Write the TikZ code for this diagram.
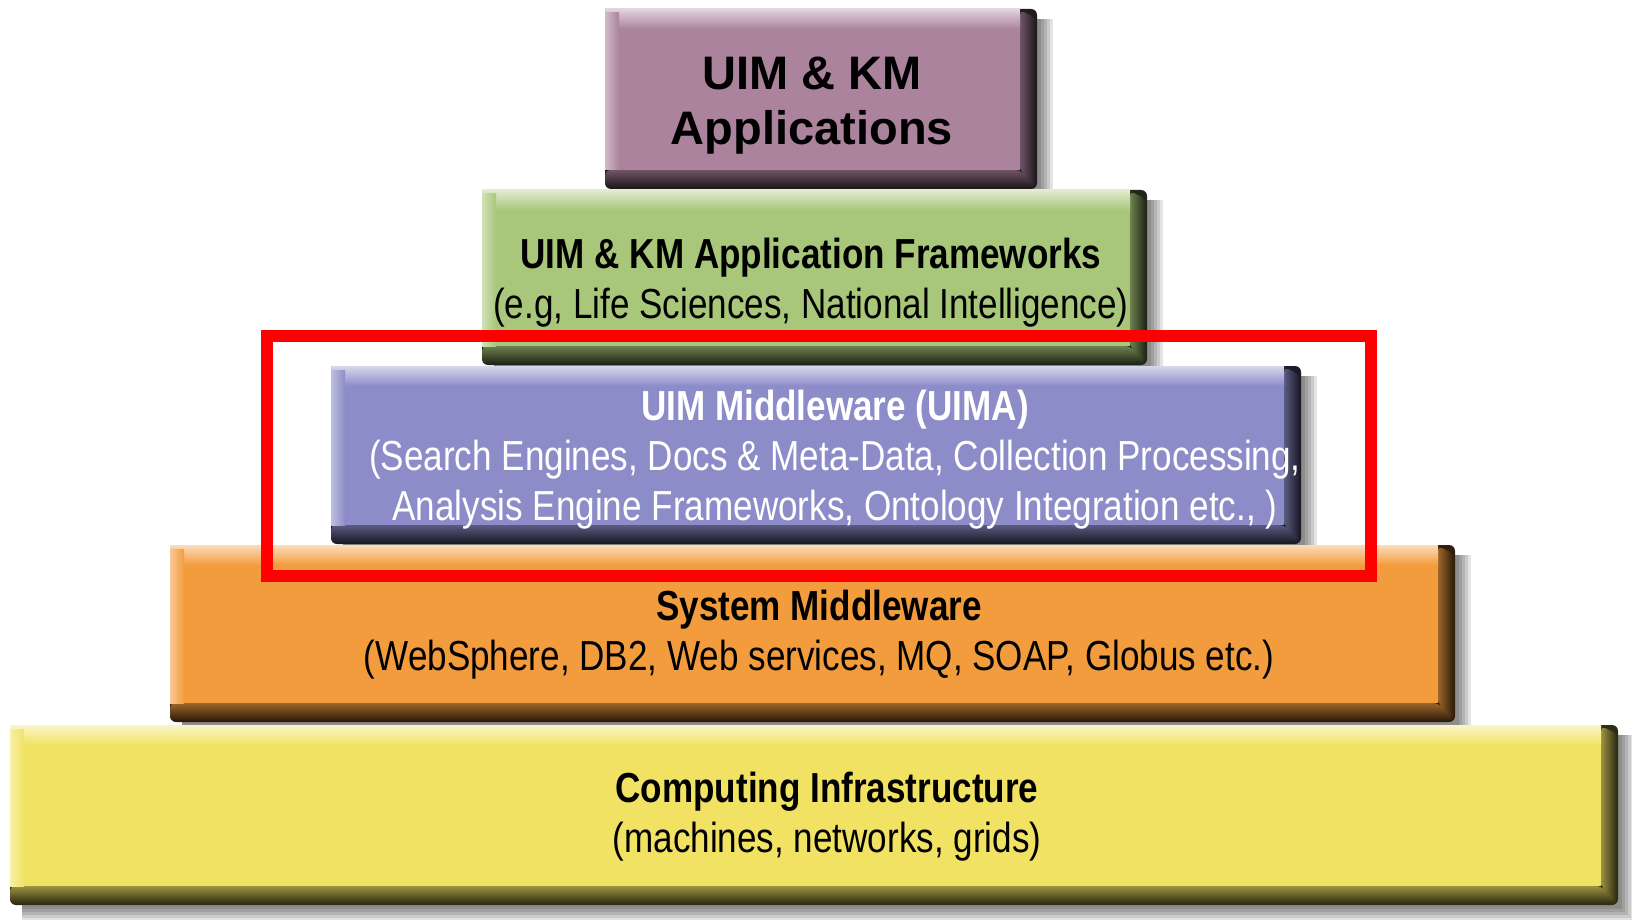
\documentclass[tikz,border=0pt]{standalone}
\usepackage{fontspec}
\setmainfont{Liberation Sans}
\newfontfamily\narrowfont[FakeStretch=0.835]{Liberation Sans}

\definecolor{appcol}{RGB}{171,131,156}
\definecolor{frmcol}{RGB}{169,199,122}
\definecolor{uimacol}{RGB}{139,140,200}
\definecolor{syscol}{RGB}{243,156,62}
\definecolor{infcol}{RGB}{241,226,100}
\definecolor{framered}{RGB}{255,0,0}

% beveled layer: #1,#2 top-left corner, #3,#4 bottom-right corner, #5 colour
\newcommand\layerbox[5]{%
  % soft drop shadow
  \foreach \k in {1,...,5}{%
    \fill[black,opacity=0.11] ({#1+12},{#2+10}) rectangle ({#3+1+3*\k},{#4+1+3*\k});}
  % dark base
  \fill[#5!20!black, rounded corners=6pt] (#1,#2) rectangle (#3,#4);
  % lower bevel
  \shade[top color=#5!65!black, middle color=#5!25!black, bottom color=#5!18!black,
         rounded corners=5pt]
    (#1,{#4-19}) -- ({#3-17},{#4-19}) -- ({#3-1},{#4-1}) -- (#1,{#4-1}) -- cycle;
  % right bevel
  \shade[left color=#5!65!black, middle color=#5!25!black, right color=#5!18!black,
         rounded corners=5pt]
    ({#3-17},{#2+1}) -- ({#3-1},{#2+9}) -- ({#3-1},{#4-1}) -- ({#3-17},{#4-19}) -- cycle;
  % face
  \fill[#5] (#1,#2) rectangle ({#3-17},{#4-19});
  % upper and left highlights
  \shade[top color=#5!35!white, bottom color=#5] (#1,#2) rectangle ({#3-17},{#2+20});
  \shade[left color=#5!55!white, right color=#5] (#1,{#2+4}) rectangle ({#1+14},{#4-19});
}

\tikzset{
  apptxt/.style={anchor=base, inner sep=0pt, font=\bfseries\fontsize{47}{55}\selectfont},
  lbl/.style={anchor=base, inner sep=0pt, font=\narrowfont\fontsize{42}{50}\selectfont},
  lblb/.style={anchor=base, inner sep=0pt, font=\narrowfont\bfseries\fontsize{42}{50}\selectfont},
}

\begin{document}
\begin{tikzpicture}[x=1pt,y=-1pt]
\useasboundingbox[fill=white] (0,0) rectangle (1632,920);

% layers, top to bottom
\layerbox{605}{9}{1037}{189}{appcol}
\layerbox{482}{190}{1147}{365}{frmcol}
\layerbox{331}{366}{1301}{544}{uimacol}
\layerbox{170}{545}{1455}{722}{syscol}
\layerbox{10}{725}{1618}{905}{infcol}

% texts
\node[apptxt] (appA) at (812,90) {UIM \& KM};
\node[apptxt] (appB) at (812,145) {Applications};

\node[lblb] (frmA) at (811,268) {UIM \& KM Application Frameworks};
\node[lbl]  (frmB) at (811,318) {(e.g, Life Sciences, National Intelligence)};

\node[lblb, text=white] (uimaA) at (835,420) {UIM Middleware (UIMA)};
\node[lbl, text=white]  (uimaB) at (835,470) {(Search Engines, Docs \& Meta-Data, Collection Processing,};
\node[lbl, text=white]  (uimaC) at (835,520) {Analysis Engine Frameworks, Ontology Integration etc., )};

\node[lblb] (sysA) at (819,620) {System Middleware};
\node[lbl]  (sysB) at (819,670) {(WebSphere, DB2, Web services, MQ, SOAP, Globus etc.)};

\node[lblb] (infA) at (827,802) {Computing Infrastructure};
\node[lbl]  (infB) at (827,852) {(machines, networks, grids)};

% highlight frame
\draw[framered, line width=12pt] (267,336) rectangle (1371,576);
\end{tikzpicture}
\end{document}
